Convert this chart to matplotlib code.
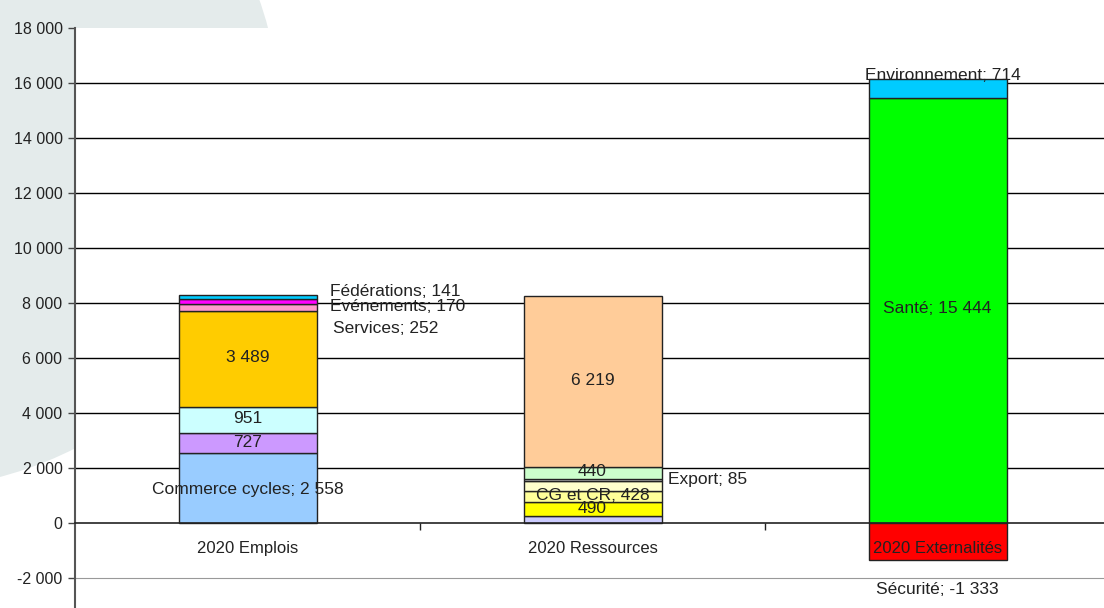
import matplotlib
matplotlib.use("Agg")
import matplotlib.pyplot as plt
from matplotlib.patches import Ellipse
from matplotlib.ticker import FuncFormatter

plt.rcParams['font.family'] = ['Liberation Sans', 'DejaVu Sans']

categories = ['2020 Emplois', '2020 Ressources', '2020 Externalités']

# stacked segments per bar, bottom to top
emplois_vals = [2558, 727, 951, 3489, 252, 170, 141]
emplois_cols = ['#99CCFF', '#CC99FF', '#CCFFFF', '#FFCC00', '#FF99CC', '#FF00FF', '#00CCFF']
ressources_vals = [260, 490, 428, 340, 85, 440, 6219]
ressources_cols = ['#CCCCFF', '#FFFF00', '#FFFF99', '#FFFFCC', '#E8E8E8', '#CCFFCC', '#FFCC99']
extern_vals = [15444, 714]
extern_cols = ['#00FF00', '#00CCFF']
securite = -1333

yticks = list(range(-2000, 18001, 2000))

fig = plt.figure(figsize=(11.04, 6.08), dpi=100)
# light decorative swoosh behind the plot
fig.patches.append(Ellipse((-100 / 1104, (608 - 120) / 608), 760 / 1104, 740 / 608,
                           transform=fig.transFigure, facecolor='#E4EBEB',
                           edgecolor='none', zorder=0))
ax = fig.add_axes([75 / 1104, 0, 1035 / 1104, 580 / 608])
ax.set_facecolor('white')
ax.set_zorder(1)

w = 0.4
edge = dict(edgecolor='#222222', linewidth=1, zorder=3)


def stack(x, vals, cols):
    bottom = 0
    for v, c in zip(vals, cols):
        ax.bar(x, v, w, bottom=bottom, color=c, **edge)
        bottom += v


stack(0, emplois_vals, emplois_cols)
stack(1, ressources_vals, ressources_cols)
stack(2, extern_vals, extern_cols)
ax.bar(2, securite, w, color='#FF0000', **edge)

# grid lines (none at 0 and at the top)
for y in yticks:
    if y == 0 or y == yticks[-1]:
        continue
    if y < 0:
        ax.axhline(y, color='#999999', lw=0.8, zorder=1)
    else:
        ax.axhline(y, color='#000000', lw=1, zorder=1)

ax.set_xlim(-0.5, 2.5)
ax.set_ylim(-3091, 18000)
ax.set_yticks(yticks)
ax.yaxis.set_major_formatter(FuncFormatter(lambda v, p: f"{int(v):,}".replace(',', ' ')))
ax.tick_params(axis='y', direction='out', length=5, width=1, color='#444444',
               labelsize=11.5, labelcolor='#222222', pad=4)

ax.spines['top'].set_visible(False)
ax.spines['right'].set_visible(False)
ax.spines['left'].set_color('#555555')
ax.spines['left'].set_linewidth(1.5)
ax.spines['bottom'].set_position(('data', 0))
ax.spines['bottom'].set_color('#222222')
ax.spines['bottom'].set_linewidth(1.2)
ax.spines['bottom'].set_zorder(4)

ax.set_xticks([0, 1, 2])
ax.set_xticklabels(categories)
ax.set_xticks([0.5, 1.5], minor=True)
ax.tick_params(axis='x', which='major', length=0, pad=13, labelsize=12, labelcolor='#222222')
ax.tick_params(axis='x', which='minor', direction='out', length=5, width=1, color='#222222')
ax.xaxis.set_zorder(5)

fs = 12.5
tc = '#222222'
# Emplois labels
ax.text(0, 1200, 'Commerce cycles; 2 558', ha='center', va='center', fontsize=fs, color=tc, zorder=5)
ax.text(0, 2945, '727', ha='center', va='center', fontsize=fs, color=tc, zorder=5)
ax.text(0, 3818, '951', ha='center', va='center', fontsize=fs, color=tc, zorder=5)
ax.text(0, 6000, '3 489', ha='center', va='center', fontsize=fs, color=tc, zorder=5)
ax.text(0.249, 7055, 'Services; 252', ha='left', va='center', fontsize=fs, color=tc, zorder=5)
ax.text(0.24, 7855, 'Evénements; 170', ha='left', va='center', fontsize=fs, color=tc, zorder=5)
ax.text(0.24, 8400, 'Fédérations; 141', ha='left', va='center', fontsize=fs, color=tc, zorder=5)
# Ressources labels
ax.text(1, 5164, '6 219', ha='center', va='center', fontsize=fs, color=tc, zorder=5)
ax.text(1, 1890, '440', ha='center', va='center', fontsize=fs, color=tc, zorder=5)
ax.text(1.22, 1564, 'Export; 85', ha='left', va='center', fontsize=fs, color=tc, zorder=5)
ax.text(1, 1018, 'CG et CR; 428', ha='center', va='center', fontsize=fs, color=tc, zorder=5)
ax.text(1, 545, '490', ha='center', va='center', fontsize=fs, color=tc, zorder=5)
# Externalites labels
ax.text(2, 7782, 'Santé; 15 444', ha='center', va='center', fontsize=fs, color=tc, zorder=5)
ax.text(2.017, 16290, 'Environnement; 714', ha='center', va='center', fontsize=fs, color=tc, zorder=5)
ax.text(2, -2436, 'Sécurité; -1 333', ha='center', va='center', fontsize=fs, color=tc, zorder=5)

fig.savefig('out.png', dpi=100)
